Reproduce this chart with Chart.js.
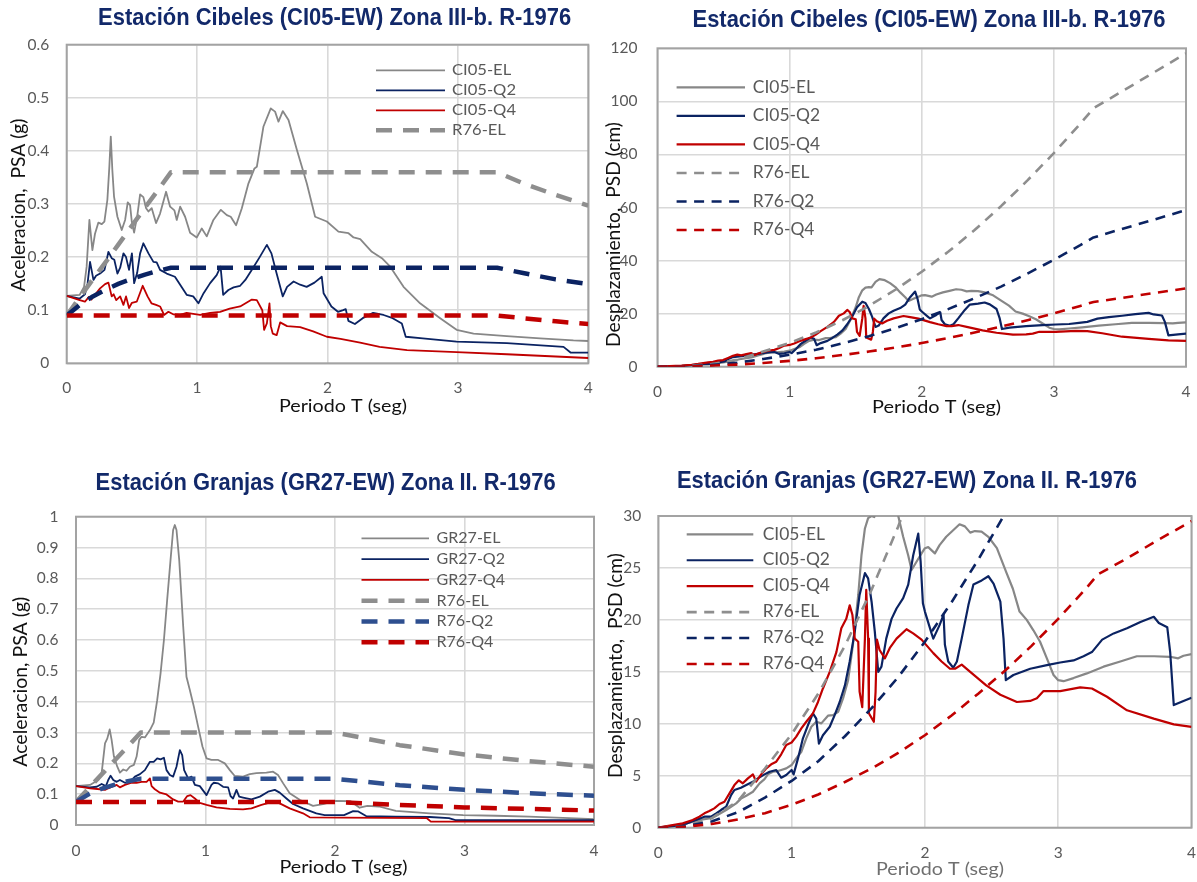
<!DOCTYPE html>
<html>
<head>
<meta charset="utf-8">
<script src="https://cdn.jsdelivr.net/npm/chart.js@4.4.1/dist/chart.umd.min.js"></script>
<style>
  html, body { margin: 0; padding: 0; background: #ffffff; }
  #page { position: relative; width: 1197px; height: 882px; overflow: hidden; background: #ffffff; }
  #page canvas { position: absolute; }
</style>
</head>
<body>
<div id="page">
  <canvas id="psaCibeles" width="598" height="440" style="left:0px;top:0px;width:598px;height:440px"></canvas>
  <canvas id="psdCibeles" width="599" height="440" style="left:598px;top:0px;width:599px;height:440px"></canvas>
  <canvas id="psaGranjas" width="606" height="442" style="left:0px;top:440px;width:606px;height:442px"></canvas>
  <canvas id="psdGranjas" width="599" height="442" style="left:598px;top:440px;width:599px;height:442px"></canvas>
</div>
<script>
// ---------------- Spectra: [period T (s), value] ----------------

// Cibeles CI05-EW, pseudo-acceleration (g)
const psaCI05_EL = [[0,0.127],[0.10,0.129],[0.133,0.144],[0.153,0.182],[0.174,0.27],[0.197,0.213],[0.217,0.244],[0.243,0.265],[0.269,0.262],[0.289,0.267],[0.312,0.308],[0.327,0.37],[0.338,0.427],[0.35,0.364],[0.363,0.314],[0.389,0.276],[0.422,0.251],[0.448,0.27],[0.468,0.303],[0.486,0.298],[0.499,0.267],[0.517,0.246],[0.542,0.279],[0.563,0.318],[0.588,0.313],[0.609,0.292],[0.627,0.286],[0.652,0.292],[0.685,0.264],[0.716,0.282],[0.762,0.323],[0.793,0.295],[0.826,0.288],[0.844,0.27],[0.87,0.295],[0.908,0.276],[0.946,0.246],[0.997,0.237],[1.036,0.254],[1.074,0.239],[1.125,0.27],[1.182,0.289],[1.228,0.279],[1.258,0.276],[1.299,0.26],[1.343,0.292],[1.394,0.339],[1.44,0.367],[1.458,0.37],[1.509,0.446],[1.565,0.48],[1.598,0.474],[1.624,0.455],[1.657,0.475],[1.701,0.458],[1.765,0.402],[1.841,0.339],[1.905,0.276],[1.995,0.267],[2.084,0.248],[2.161,0.245],[2.2,0.237],[2.251,0.234],[2.34,0.21],[2.417,0.198],[2.481,0.182],[2.583,0.144],[2.71,0.113],[2.864,0.085],[2.99,0.063],[3.12,0.056],[3.375,0.051],[3.63,0.047],[3.886,0.043],[4.0,0.042]];
const psaCI05_Q2 = [[0,0.127],[0.10,0.122],[0.14,0.13],[0.16,0.15],[0.179,0.191],[0.205,0.157],[0.225,0.165],[0.256,0.169],[0.29,0.176],[0.32,0.21],[0.345,0.198],[0.365,0.195],[0.389,0.169],[0.41,0.18],[0.435,0.207],[0.455,0.2],[0.478,0.176],[0.5,0.207],[0.517,0.151],[0.54,0.17],[0.563,0.207],[0.588,0.226],[0.627,0.207],[0.665,0.191],[0.69,0.19],[0.716,0.176],[0.767,0.169],[0.83,0.163],[0.88,0.144],[0.92,0.129],[0.97,0.126],[1.01,0.113],[1.05,0.132],[1.1,0.151],[1.15,0.166],[1.18,0.182],[1.2,0.129],[1.24,0.138],[1.28,0.143],[1.33,0.146],[1.37,0.157],[1.42,0.176],[1.48,0.2],[1.535,0.223],[1.57,0.207],[1.61,0.169],[1.657,0.126],[1.69,0.144],[1.74,0.154],[1.79,0.148],[1.84,0.144],[1.9,0.152],[1.956,0.163],[1.97,0.132],[2.03,0.107],[2.08,0.097],[2.12,0.1],[2.14,0.102],[2.16,0.08],[2.21,0.074],[2.27,0.085],[2.35,0.095],[2.43,0.091],[2.5,0.085],[2.57,0.075],[2.6,0.05],[2.73,0.047],[2.99,0.041],[3.375,0.038],[3.81,0.031],[3.866,0.02],[4.0,0.02]];
const psaCI05_Q4 = [[0,0.127],[0.1,0.119],[0.14,0.116],[0.17,0.125],[0.19,0.12],[0.217,0.129],[0.256,0.141],[0.294,0.149],[0.32,0.152],[0.345,0.126],[0.36,0.13],[0.38,0.119],[0.41,0.126],[0.435,0.11],[0.455,0.126],[0.478,0.104],[0.5,0.114],[0.537,0.116],[0.583,0.146],[0.62,0.126],[0.65,0.113],[0.685,0.11],[0.716,0.107],[0.747,0.091],[0.78,0.097],[0.82,0.092],[0.87,0.091],[0.92,0.095],[0.97,0.093],[1.023,0.091],[1.1,0.095],[1.176,0.097],[1.25,0.103],[1.33,0.107],[1.42,0.12],[1.458,0.119],[1.5,0.1],[1.514,0.063],[1.535,0.075],[1.555,0.113],[1.565,0.07],[1.58,0.056],[1.61,0.053],[1.637,0.077],[1.69,0.07],[1.79,0.068],[1.89,0.06],[1.995,0.05],[2.1,0.046],[2.25,0.039],[2.4,0.031],[2.61,0.025],[2.99,0.021],[3.375,0.017],[4.0,0.01]];

// Cibeles CI05-EW, pseudo-displacement (cm)
const psdCI05_EL = [[0,0],[0.183,0.32],[0.308,0.74],[0.383,0.9],[0.434,1.15],[0.509,1.7],[0.584,2.34],[0.62,2.8],[0.66,3.08],[0.71,3.46],[0.76,4.27],[0.797,4.68],[0.822,5.13],[0.86,5.39],[0.897,5.45],[0.922,5.55],[0.96,5.71],[1.0,6.03],[1.035,6.67],[1.073,7.31],[1.11,8.6],[1.148,9.72],[1.185,10.2],[1.223,10.04],[1.273,10.78],[1.31,10.84],[1.35,11.16],[1.386,12.45],[1.424,14.2],[1.46,17.6],[1.5,22.4],[1.524,26.2],[1.55,28.8],[1.574,29.8],[1.6,30.0],[1.62,29.9],[1.65,32.0],[1.68,33.0],[1.72,32.6],[1.76,31.5],[1.8,30.0],[1.837,28.0],[1.875,26.2],[1.9,24.8],[1.937,25.6],[1.975,26.4],[2.0,26.9],[2.025,27.0],[2.075,26.4],[2.11,27.2],[2.16,28.0],[2.21,28.6],[2.26,29.2],[2.3,29.0],[2.34,28.4],[2.375,28.55],[2.425,28.5],[2.476,28.0],[2.54,26.9],[2.61,24.6],[2.66,23.0],[2.71,20.8],[2.764,20.0],[2.814,19.0],[2.864,17.9],[2.915,16.3],[2.965,14.7],[3.0,14.2],[3.04,14.1],[3.115,14.4],[3.215,14.85],[3.34,15.5],[3.466,16.0],[3.59,16.5],[3.72,16.5],[3.84,16.45],[3.9,16.3],[3.94,16.55],[4.0,16.7]];
const psdCI05_Q2 = [[0,0],[0.183,0.26],[0.283,0.74],[0.346,1.06],[0.396,1.06],[0.434,1.38],[0.47,1.7],[0.509,2.02],[0.546,3.14],[0.571,3.63],[0.62,3.85],[0.66,4.1],[0.71,4.43],[0.747,4.75],[0.797,5.13],[0.835,5.39],[0.885,5.55],[0.922,4.81],[0.96,5.07],[1.0,5.55],[1.015,5.13],[1.048,6.67],[1.085,8.6],[1.123,9.88],[1.16,11.0],[1.185,10.5],[1.205,8.1],[1.235,8.9],[1.286,9.72],[1.323,10.84],[1.361,12.1],[1.4,13.7],[1.436,16.0],[1.474,18.9],[1.51,22.4],[1.55,24.5],[1.574,24.0],[1.6,21.75],[1.624,18.9],[1.65,15.0],[1.674,15.5],[1.71,18.2],[1.75,20.1],[1.787,21.1],[1.837,22.1],[1.875,23.4],[1.912,26.2],[1.95,28.3],[1.968,25.6],[1.985,21.6],[2.0,20.8],[2.05,18.7],[2.063,18.2],[2.11,19.5],[2.14,20.5],[2.15,17.6],[2.175,16.0],[2.213,15.4],[2.24,16.0],[2.276,18.2],[2.326,21.4],[2.364,23.4],[2.426,23.8],[2.476,24.2],[2.515,23.5],[2.566,21.75],[2.59,18.2],[2.607,14.2],[2.664,14.7],[2.79,15.3],[2.915,15.65],[3.015,15.9],[3.115,16.1],[3.19,16.5],[3.253,16.9],[3.33,18.1],[3.416,18.7],[3.516,19.2],[3.617,19.8],[3.717,20.3],[3.755,19.7],[3.818,19.3],[3.84,16.9],[3.867,11.8],[3.94,12.2],[4.0,12.5]];
const psdCI05_Q4 = [[0,0],[0.183,0.42],[0.258,0.74],[0.308,1.06],[0.346,1.38],[0.383,1.6],[0.42,1.86],[0.459,2.28],[0.496,2.5],[0.534,3.3],[0.571,4.1],[0.604,4.56],[0.634,4.27],[0.672,4.75],[0.71,5.13],[0.734,4.43],[0.772,5.13],[0.81,5.71],[0.847,6.1],[0.885,6.35],[0.922,7.06],[0.96,7.96],[1.0,8.2],[1.035,8.76],[1.073,9.56],[1.11,10.2],[1.16,11.0],[1.198,12.1],[1.235,13.4],[1.286,15.0],[1.336,16.9],[1.373,19.2],[1.41,20.1],[1.436,21.4],[1.456,20.5],[1.474,18.2],[1.5,17.9],[1.51,13.1],[1.53,11.6],[1.55,18.2],[1.56,22.9],[1.574,18.2],[1.58,11.0],[1.617,10.2],[1.63,13.1],[1.64,18.1],[1.66,17.1],[1.7,16.3],[1.737,17.3],[1.787,18.2],[1.862,19.1],[1.912,18.7],[1.975,18.1],[2.063,16.8],[2.125,16.0],[2.188,15.3],[2.226,15.3],[2.276,15.7],[2.34,15.0],[2.46,13.7],[2.566,12.8],[2.69,12.1],[2.79,12.2],[2.84,12.45],[2.89,13.15],[3.015,13.15],[3.165,13.5],[3.253,13.4],[3.366,12.6],[3.516,11.3],[3.717,10.5],[3.867,9.95],[4.0,9.7]];

// Granjas GR27-EW, pseudo-acceleration (g)
const psaGR27_EL = [[0,0.126],[0.108,0.13],[0.172,0.146],[0.198,0.168],[0.224,0.265],[0.242,0.281],[0.26,0.31],[0.275,0.276],[0.293,0.222],[0.319,0.189],[0.339,0.17],[0.365,0.18],[0.39,0.176],[0.416,0.189],[0.447,0.195],[0.468,0.222],[0.488,0.276],[0.506,0.286],[0.532,0.284],[0.571,0.308],[0.6,0.332],[0.627,0.405],[0.653,0.492],[0.679,0.6],[0.704,0.73],[0.73,0.86],[0.75,0.957],[0.763,0.973],[0.776,0.957],[0.797,0.86],[0.828,0.643],[0.853,0.481],[0.879,0.438],[0.91,0.384],[0.943,0.319],[0.977,0.254],[1.008,0.216],[1.046,0.211],[1.098,0.211],[1.149,0.2],[1.188,0.178],[1.226,0.159],[1.29,0.157],[1.342,0.165],[1.393,0.168],[1.47,0.17],[1.522,0.173],[1.56,0.162],[1.6,0.135],[1.65,0.103],[1.73,0.081],[1.83,0.062],[1.907,0.068],[2.0,0.078],[2.12,0.077],[2.19,0.056],[2.25,0.062],[2.34,0.06],[2.47,0.046],[2.73,0.038],[2.99,0.032],[3.24,0.03],[3.5,0.027],[3.76,0.023],[4.0,0.019]];
const psaGR27_Q2 = [[0,0.126],[0.108,0.122],[0.16,0.124],[0.198,0.133],[0.231,0.126],[0.249,0.146],[0.267,0.16],[0.288,0.146],[0.314,0.14],[0.339,0.146],[0.378,0.137],[0.416,0.14],[0.455,0.157],[0.494,0.165],[0.532,0.178],[0.571,0.205],[0.6,0.205],[0.627,0.216],[0.653,0.213],[0.679,0.218],[0.699,0.178],[0.725,0.162],[0.75,0.157],[0.776,0.189],[0.802,0.243],[0.82,0.227],[0.835,0.178],[0.866,0.151],[0.892,0.157],[0.918,0.13],[0.956,0.126],[1.008,0.097],[1.046,0.13],[1.064,0.137],[1.098,0.135],[1.136,0.124],[1.175,0.122],[1.193,0.094],[1.213,0.086],[1.239,0.114],[1.26,0.092],[1.29,0.089],[1.355,0.083],[1.42,0.092],[1.483,0.108],[1.535,0.114],[1.573,0.105],[1.625,0.086],[1.676,0.068],[1.753,0.054],[1.856,0.038],[1.92,0.032],[2.07,0.032],[2.14,0.045],[2.18,0.044],[2.24,0.029],[2.47,0.027],[2.73,0.026],[2.88,0.022],[2.93,0.016],[4.0,0.016]];
const psaGR27_Q4 = [[0,0.126],[0.108,0.119],[0.185,0.116],[0.224,0.114],[0.249,0.119],[0.288,0.126],[0.314,0.13],[0.339,0.122],[0.378,0.13],[0.43,0.137],[0.468,0.137],[0.506,0.14],[0.545,0.14],[0.571,0.151],[0.584,0.126],[0.609,0.116],[0.648,0.105],[0.699,0.099],[0.75,0.083],[0.789,0.076],[0.828,0.076],[0.859,0.094],[0.884,0.097],[0.918,0.086],[0.956,0.072],[1.008,0.065],[1.085,0.057],[1.188,0.052],[1.29,0.051],[1.355,0.054],[1.432,0.065],[1.522,0.076],[1.573,0.07],[1.65,0.054],[1.753,0.038],[1.805,0.025],[2.04,0.024],[2.71,0.022],[2.74,0.011],[4.0,0.011]];

// Design spectra, RCDF-1976
const r76CibelesPeriods = [0, 0.1, 0.2, 0.3, 0.4, 0.5, 0.6, 0.7, 0.8, 3.3, 3.5, 3.75, 4.0];
const r76CibelesPsaEL = [0.09, 0.124, 0.158, 0.191, 0.225, 0.259, 0.293, 0.326, 0.36, 0.36, 0.339, 0.317, 0.297];
const r76CibelesPsaQ2 = [0.09, 0.11, 0.126, 0.139, 0.15, 0.159, 0.167, 0.174, 0.18, 0.18, 0.17, 0.158, 0.149];
const r76CibelesPsaQ4 = [0.09, 0.09, 0.09, 0.09, 0.09, 0.09, 0.09, 0.09, 0.09, 0.09, 0.085, 0.079, 0.074];

const r76PsdPeriods = [0, 0.2, 0.4, 0.6, 0.8, 1.0, 1.2, 1.4, 1.6, 1.8, 2.0, 2.2, 2.4, 2.6, 2.8, 3.0, 3.2, 3.3, 3.5, 3.75, 4.0];
const r76PsdEL = [0, 0.16, 0.9, 2.6, 5.7, 9.0, 12.9, 17.5, 22.9, 29.0, 35.8, 43.3, 51.5, 60.5, 70.2, 80.5, 91.6, 97.4, 103.3, 110.7, 118.1];
const r76PsdQ2 = [0, 0.13, 0.6, 1.5, 2.9, 4.5, 6.4, 8.8, 11.5, 14.5, 17.9, 21.7, 25.8, 30.2, 35.1, 40.3, 45.8, 48.7, 51.7, 55.3, 59.0];
const r76PsdQ4 = [0, 0.09, 0.36, 0.8, 1.4, 2.2, 3.2, 4.4, 5.7, 7.2, 8.9, 10.8, 12.9, 15.1, 17.5, 20.1, 22.9, 24.4, 25.8, 27.7, 29.5];

const r76GranjasPeriods = [0, 0.1, 0.2, 0.3, 0.4, 0.5, 2.0, 2.5, 3.0, 3.5, 4.0];
const r76GranjasPsaEL = [0.075, 0.12, 0.165, 0.21, 0.255, 0.3, 0.3, 0.259, 0.229, 0.207, 0.189];
const r76GranjasPsaQ2 = [0.075, 0.1, 0.118, 0.131, 0.142, 0.15, 0.15, 0.129, 0.114, 0.103, 0.095];
const r76GranjasPsaQ4 = [0.075, 0.075, 0.075, 0.075, 0.075, 0.075, 0.075, 0.065, 0.057, 0.052, 0.047];

// Axis ranges
const periodAxis = { min: 0, max: 4, step: 1 };
const psaCibelesAxis = { min: 0, max: 0.6, step: 0.1 };
const psdCibelesAxis = { min: 0, max: 120, step: 20 };
const psaGranjasAxis = { min: 0, max: 1, step: 0.1 };
const psdGranjasAxis = { min: 0, max: 30, step: 5 };

// ---------------- Helpers ----------------
const GRAY = '#878787', GRAY_D = '#8e8e8e', NAVY = '#0b2362', RED = '#c00000', BLUE_D = '#2e4f8f';

const fromPairs = pairs => pairs.map(p => ({ x: p[0], y: p[1] }));
const fromColumns = (xs, ys) => xs.map((x, i) => ({ x: x, y: ys[i] }));
const tickText = v => String(Math.round(v * 1000) / 1000);

function series(label, points, color, width, dash) {
  return {
    label: label, data: points, borderColor: color, backgroundColor: color,
    borderWidth: width, borderDash: dash || [], fill: false, pointRadius: 0,
    tension: 0, clip: 0, borderJoinStyle: 'round', borderCapStyle: 'butt'
  };
}

function drawText(ctx, text, x, y, font, color, width, rotate, thick) {
  ctx.save();
  ctx.font = font;
  ctx.fillStyle = color;
  ctx.textAlign = 'center';
  ctx.textBaseline = 'middle';
  const w = ctx.measureText(text).width;
  ctx.translate(x, y);
  if (rotate) ctx.rotate(-Math.PI / 2);
  ctx.scale(width ? width / w : 1, thick || 1);
  ctx.fillText(text, 0, 0);
  ctx.restore();
}

const decorations = {};

const decorPlugin = {
  id: 'decor',
  beforeDatasetsDraw(chart) {
    const a = chart.chartArea, ctx = chart.ctx;
    ctx.save();
    ctx.strokeStyle = '#a3a3a3';
    ctx.lineWidth = 2;
    ctx.strokeRect(a.left, a.top, a.right - a.left, a.bottom - a.top);
    ctx.restore();
  },
  afterDraw(chart) {
    const d = decorations[chart.canvas.id];
    if (!d) return;
    const ctx = chart.ctx;
    const ox = d.origin[0], oy = d.origin[1];
    // chart title
    drawText(ctx, d.title.text, d.title.x - ox, d.title.y - oy,
      "bold 24px 'Liberation Sans Narrow', 'Liberation Sans', Arial, sans-serif", '#12296a', d.title.w);
    // axis titles
    drawText(ctx, d.xTitle.text, d.xTitle.x - ox, d.xTitle.y - oy, "17px Lato, sans-serif", d.xTitle.color, d.xTitle.w);
    drawText(ctx, d.yTitle.text, d.yTitle.x - ox, d.yTitle.y - oy, "17px Lato, sans-serif", '#111111', d.yTitle.w, true, 1.08);
    // legend entries
    const L = d.legend;
    chart.data.datasets.slice(0, L.count).forEach((ds, i) => {
      const y = L.y + i * L.dy - oy;
      ctx.save();
      ctx.strokeStyle = ds.borderColor;
      ctx.lineWidth = ds.borderWidth;
      ctx.setLineDash(ds.borderDash || []);
      ctx.lineCap = 'butt';
      ctx.beginPath();
      ctx.moveTo(L.x1 - ox, y);
      ctx.lineTo(L.x2 - ox, y);
      ctx.stroke();
      ctx.restore();
      ctx.save();
      ctx.font = L.size + "px Lato, sans-serif";
      ctx.fillStyle = '#595959';
      ctx.textAlign = 'left';
      ctx.textBaseline = 'middle';
      ctx.translate(L.tx - ox, y);
      ctx.scale(1.07, 1);
      ctx.fillText(ds.label, 0, 0);
      ctx.restore();
    });
  }
};

function makeChart(id, datasets, yAxis, area, tickPad) {
  const canvas = document.getElementById(id);
  const W = canvas.width, H = canvas.height;
  datasets.forEach((ds, i) => { ds.order = -i; });
  return new Chart(canvas, {
    type: 'line',
    data: { datasets: datasets },
    options: {
      responsive: false,
      animation: false,
      devicePixelRatio: 1,
      events: [],
      layout: { padding: { left: 0, top: area.top, right: W - area.right, bottom: 0 } },
      plugins: { legend: { display: false }, tooltip: { enabled: false }, title: { display: false } },
      scales: {
        x: {
          type: 'linear', min: periodAxis.min, max: periodAxis.max,
          afterFit: s => { s.height = H - area.bottom; s.paddingLeft = 0; s.paddingRight = 0; },
          ticks: { stepSize: periodAxis.step, color: '#595959', font: { family: 'Lato', size: 15.5 }, padding: tickPad.x, maxRotation: 0, autoSkip: false, callback: tickText },
          grid: { color: '#d9d9d9', lineWidth: 1.6, drawTicks: false },
          border: { display: false }
        },
        y: {
          type: 'linear', min: yAxis.min, max: yAxis.max,
          afterFit: s => { s.width = area.left; s.paddingTop = 0; s.paddingBottom = 0; },
          ticks: { stepSize: yAxis.step, color: '#595959', font: { family: 'Lato', size: 15.5 }, padding: tickPad.y, autoSkip: false, callback: tickText },
          grid: { color: '#d9d9d9', lineWidth: 1.6, drawTicks: false },
          border: { display: false }
        }
      }
    },
    plugins: [decorPlugin]
  });
}

// ---------------- Panel layout ----------------
decorations.psaCibeles = {
  origin: [0, 0],
  title: { text: 'Estación Cibeles (CI05-EW) Zona III-b. R-1976', x: 334.6, y: 18.5, w: 473 },
  xTitle: { text: 'Periodo T (seg)', x: 343, y: 407, w: 128, color: '#111111' },
  yTitle: { text: 'Aceleracion,  PSA (g)', x: 19, y: 205, w: 173 },
  legend: { count: 4, x1: 376, x2: 445, tx: 452, y: 70.3, dy: 20, size: 15.5 }
};
decorations.psdCibeles = {
  origin: [598, 0],
  title: { text: 'Estación Cibeles (CI05-EW) Zona III-b. R-1976', x: 929, y: 20.3, w: 473 },
  xTitle: { text: 'Periodo T (seg)', x: 936.6, y: 407.3, w: 129, color: '#111111' },
  yTitle: { text: 'Desplazamiento,  PSD (cm)', x: 614, y: 234.5, w: 225 },
  legend: { count: 6, x1: 676.6, x2: 745, tx: 752.8, y: 87.3, dy: 28.55, size: 16.3 }
};
decorations.psaGranjas = {
  origin: [0, 440],
  title: { text: 'Estación Granjas (GR27-EW) Zona II. R-1976', x: 325.6, y: 483.8, w: 460 },
  xTitle: { text: 'Periodo T (seg)', x: 343.5, y: 868, w: 128, color: '#111111' },
  yTitle: { text: 'Aceleracion, PSA (g)', x: 21, y: 681.7, w: 170 },
  legend: { count: 6, x1: 361.5, x2: 429, tx: 436.5, y: 538.3, dy: 20.8, size: 15 }
};
decorations.psdGranjas = {
  origin: [598, 440],
  title: { text: 'Estación Granjas (GR27-EW) Zona II. R-1976', x: 907, y: 481.3, w: 460 },
  xTitle: { text: 'Periodo T (seg)', x: 940, y: 870, w: 128, color: '#6f6f6f' },
  yTitle: { text: 'Desplazamiento,  PSD (cm)', x: 616, y: 665.6, w: 225 },
  legend: { count: 6, x1: 686.7, x2: 753.3, tx: 762.7, y: 534.3, dy: 25.94, size: 16.3 }
};

const THICK_DASH = [16, 11];
const THIN_DASH = [10, 7.5];

function psdDatasets() {
  return [
    series('CI05-EL', fromPairs(psdCI05_EL), GRAY, 2.2),
    series('CI05-Q2', fromPairs(psdCI05_Q2), NAVY, 2.2),
    series('CI05-Q4', fromPairs(psdCI05_Q4), RED, 2.2),
    series('R76-EL', fromColumns(r76PsdPeriods, r76PsdEL), GRAY_D, 2.6, THIN_DASH),
    series('R76-Q2', fromColumns(r76PsdPeriods, r76PsdQ2), NAVY, 2.6, THIN_DASH),
    series('R76-Q4', fromColumns(r76PsdPeriods, r76PsdQ4), RED, 2.6, THIN_DASH)
  ];
}

makeChart('psaCibeles', [
  series('CI05-EL', fromPairs(psaCI05_EL), GRAY, 1.8),
  series('CI05-Q2', fromPairs(psaCI05_Q2), NAVY, 1.8),
  series('CI05-Q4', fromPairs(psaCI05_Q4), RED, 1.8),
  series('R76-EL', fromColumns(r76CibelesPeriods, r76CibelesPsaEL), GRAY_D, 4.5, THICK_DASH),
  series('R76-Q2', fromColumns(r76CibelesPeriods, r76CibelesPsaQ2), NAVY, 4.5, THICK_DASH),
  series('R76-Q4', fromColumns(r76CibelesPeriods, r76CibelesPsaQ4), RED, 4.5, THICK_DASH)
], psaCibelesAxis, { left: 66.7, top: 44.7, right: 588.3, bottom: 363.3 }, { x: 15.7, y: 17.5 });

makeChart('psdCibeles', psdDatasets(), psdCibelesAxis,
  { left: 59.5, top: 48.3, right: 588, bottom: 366.7 }, { x: 15.7, y: 20 });

makeChart('psaGranjas', [
  series('GR27-EL', fromPairs(psaGR27_EL), GRAY, 1.8),
  series('GR27-Q2', fromPairs(psaGR27_Q2), NAVY, 1.8),
  series('GR27-Q4', fromPairs(psaGR27_Q4), RED, 1.8),
  series('R76-EL', fromColumns(r76GranjasPeriods, r76GranjasPsaEL), GRAY_D, 4.5, THICK_DASH),
  series('R76-Q2', fromColumns(r76GranjasPeriods, r76GranjasPsaQ2), BLUE_D, 4.5, THICK_DASH),
  series('R76-Q4', fromColumns(r76GranjasPeriods, r76GranjasPsaQ4), RED, 4.5, THICK_DASH)
], psaGranjasAxis, { left: 76, top: 76.7, right: 594, bottom: 385 }, { x: 16.4, y: 17.5 });

makeChart('psdGranjas', psdDatasets(), psdGranjasAxis,
  { left: 60.3, top: 76, right: 593.5, bottom: 387.7 }, { x: 16.4, y: 17 });
</script>
</body>
</html>
